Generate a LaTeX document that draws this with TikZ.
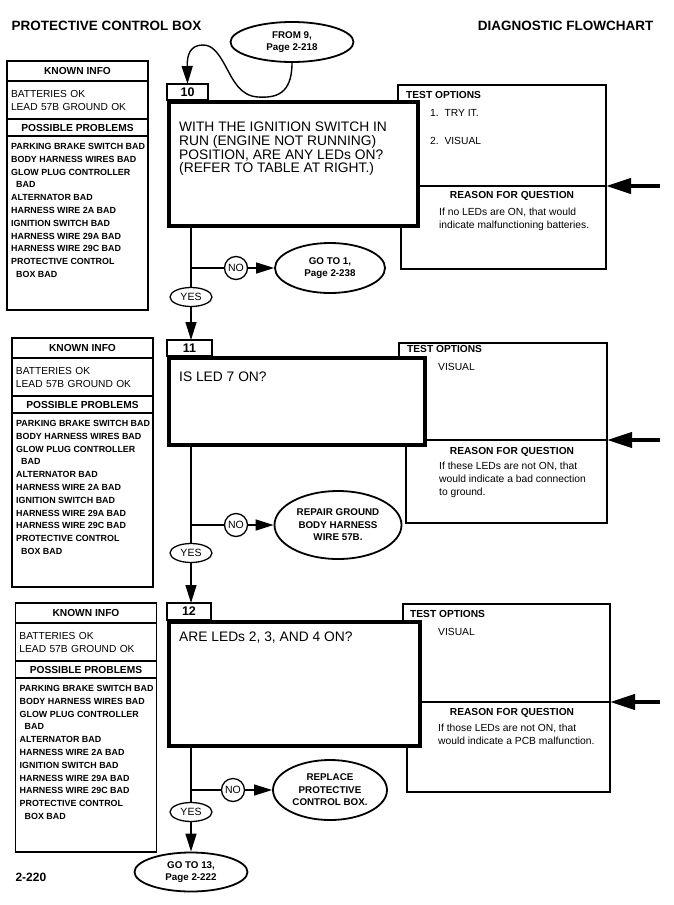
\documentclass[tikz,border=0pt]{standalone}
\usepackage{fontspec}
\setmainfont{Liberation Sans}
\usetikzlibrary{positioning,shapes.geometric,arrows.meta}

\begin{document}
\begin{tikzpicture}
 [x=1pt,y=-1pt,
  title/.style={font=\bfseries\fontsize{13.5}{14}\selectfont},
  known head/.style={draw, line width=1.1pt, outer sep=0pt, inner sep=0pt, minimum width=141pt, font=\bfseries\fontsize{10.2}{12}\selectfont},
  known text/.style={draw, line width=1.1pt, outer sep=0pt, inner xsep=4pt, inner ysep=0pt, text width=133pt, align=left, font=\fontsize{10.2}{13}\selectfont},
  problem list/.style={anchor=north west, inner xsep=4pt, inner ysep=7pt, align=left, font=\bfseries\fontsize{8.9}{12.8}\selectfont},
  num box/.style={draw, line width=1.2pt, fill=white, outer sep=0pt, inner sep=0pt, anchor=south west, font=\bfseries\fontsize{12.5}{13}\selectfont},
  question box/.style={draw, line width=4pt, fill=white, outer sep=0pt},
  question/.style={anchor=north west, inner sep=0pt, align=left, font=\fontsize{13.8}{13.7}\selectfont},
  test box/.style={draw, line width=1.2pt, fill=white, outer sep=0pt},
  box head/.style={anchor=west, inner sep=0pt, font=\bfseries\fontsize{10.2}{12}\selectfont},
  box text/.style={anchor=north west, inner sep=0pt, align=left, font=\fontsize{10.3}{13}\selectfont},
  yes node/.style={ellipse, draw, line width=1.3pt, fill=white, inner sep=0pt, minimum width=42pt, minimum height=19pt, font=\fontsize{10.5}{12}\selectfont},
  no node/.style={circle, draw, line width=1.3pt, fill=white, inner sep=0pt, minimum size=23pt, font=\fontsize{10.5}{12}\selectfont},
  goto node/.style={ellipse, draw, line width=1.8pt, fill=white, inner sep=0pt, align=center, font=\bfseries\fontsize{9.8}{12.5}\selectfont},
  flow/.style={line width=1.4pt},
  to arrow/.style={flow, -{Triangle[length=18pt,width=11pt]}},
  side arrow/.style={line width=4pt, -{Triangle[length=25pt,width=15pt]}}]

\useasboundingbox (0,0) rectangle (673,905);

\node[title, anchor=west] (t1) at (8,26) {PROTECTIVE CONTROL BOX};
\node[title, anchor=east] (t2) at (657,26) {DIAGNOSTIC FLOWCHART};
\node[title, anchor=west, font=\bfseries\fontsize{12}{12}\selectfont] (pg) at (12,877) {2-220};

\node[goto node, minimum width=123pt, minimum height=40pt] (e0) at (292,42) {FROM 9,\\Page 2-218};

% step 10
\node[test box, minimum width=208pt, minimum height=101pt] (t10) at (502,135.5) {};
\node[test box, minimum width=205pt, minimum height=83pt] (r10) at (503.5,227.5) {};
\coordinate (s10) at (660,186);

\node[question box, minimum width=249pt, minimum height=124pt] (q10) at (293.5,164) {};
\node[num box, minimum width=41pt, minimum height=16pt] (n10) at ([xshift=-2pt,yshift=2pt]q10.north west) {10};
\node[question] (qt10) at (179,122) {WITH THE IGNITION SWITCH IN\\RUN (ENGINE NOT RUNNING)\\POSITION, ARE ANY LEDs ON?\\(REFER TO TABLE AT RIGHT.)};

\node[box head] (to10) at (406,95) {TEST OPTIONS};
\node[box text, anchor=west] (o10) at (430,113) {1.\ \ TRY IT.};
\node[box text, anchor=west] (v10) at (430,141) {2.\ \ VISUAL};
\node[box head, anchor=center] (rq10) at (512,196) {REASON FOR QUESTION};
\node[box text] (rt10) at (439,208) {If no LEDs are ON, that would\\indicate malfunctioning batteries.};

\node[known head, minimum height=20pt] (k10) at (77.5,71) {KNOWN INFO};
\node[known text, minimum height=38pt, below=0pt of k10] (b10) {BATTERIES OK\\LEAD 57B GROUND OK};
\node[known head, minimum height=17pt, below=0pt of b10] (p10) {POSSIBLE PROBLEMS};
\node[known head, minimum height=174pt, below=0pt of p10] (l10) {};
\node[problem list] (pl10) at (l10.north west) {PARKING BRAKE SWITCH BAD\\BODY HARNESS WIRES BAD\\GLOW PLUG CONTROLLER\\\hspace*{5pt}BAD\\ALTERNATOR BAD\\HARNESS WIRE 2A BAD\\IGNITION SWITCH BAD\\HARNESS WIRE 29A BAD\\HARNESS WIRE 29C BAD\\PROTECTIVE CONTROL\\\hspace*{5pt}BOX BAD};

\node[yes node] (y10) at (191,297) {YES};
\node[no node] (no10) at (236,268) {NO};
\node[goto node, minimum width=110pt, minimum height=50pt] (e10) at (330,268) {GO TO 1,\\Page 2-238};
\coordinate (j10) at (191,268);

% step 11
\node[test box, minimum width=208pt, minimum height=97pt] (t11) at (503,391.5) {};
\node[test box, minimum width=201pt, minimum height=83pt] (r11) at (506.5,481.5) {};
\coordinate (s11) at (660,440);

\node[question box, minimum width=256pt, minimum height=87pt] (q11) at (297,401.5) {};
\node[num box, minimum width=45pt, minimum height=16pt] (n11) at ([xshift=-2pt,yshift=2pt]q11.north west) {11};
\node[question] (qt11) at (179,372) {IS LED 7 ON?};

\node[box head] (to11) at (407,349) {TEST OPTIONS};
\node[box text, anchor=west] (v11) at (438,367) {VISUAL};
\node[box head, anchor=center] (rq11) at (512,452) {REASON FOR QUESTION};
\node[box text] (rt11) at (439,462) {If these LEDs are not ON, that\\would indicate a bad connection\\to ground.};

\node[known head, minimum height=20pt] (k11) at (82.5,348) {KNOWN INFO};
\node[known text, minimum height=38pt, below=0pt of k11] (b11) {BATTERIES OK\\LEAD 57B GROUND OK};
\node[known head, minimum height=17pt, below=0pt of b11] (p11) {POSSIBLE PROBLEMS};
\node[known head, minimum height=174pt, below=0pt of p11] (l11) {};
\node[problem list] (pl11) at (l11.north west) {PARKING BRAKE SWITCH BAD\\BODY HARNESS WIRES BAD\\GLOW PLUG CONTROLLER\\\hspace*{5pt}BAD\\ALTERNATOR BAD\\HARNESS WIRE 2A BAD\\IGNITION SWITCH BAD\\HARNESS WIRE 29A BAD\\HARNESS WIRE 29C BAD\\PROTECTIVE CONTROL\\\hspace*{5pt}BOX BAD};

\node[yes node] (y11) at (191,553) {YES};
\node[no node] (no11) at (236,525) {NO};
\node[goto node, minimum width=127pt, minimum height=68pt] (e11) at (338,525) {REPAIR GROUND\\BODY HARNESS\\WIRE 57B.};
\coordinate (j11) at (191,525);

% step 12
\node[test box, minimum width=207pt, minimum height=98pt] (t12) at (506.5,653) {};
\node[test box, minimum width=203pt, minimum height=90pt] (r12) at (508.5,747) {};
\coordinate (s12) at (660,702);

\node[question box, minimum width=251pt, minimum height=124pt] (q12) at (294.5,684) {};
\node[num box, minimum width=44pt, minimum height=17pt] (n12) at ([xshift=-2pt,yshift=2pt]q12.north west) {12};
\node[question] (qt12) at (179,632) {ARE LEDs 2, 3, AND 4 ON?};

\node[box head] (to12) at (410,614) {TEST OPTIONS};
\node[box text, anchor=west] (v12) at (438,632) {VISUAL};
\node[box head, anchor=center] (rq12) at (512,713) {REASON FOR QUESTION};
\node[box text] (rt12) at (438,724) {If those LEDs are not ON, that\\would indicate a PCB malfunction.};

\node[known head, minimum height=20pt] (k12) at (86,613) {KNOWN INFO};
\node[known text, minimum height=38pt, below=0pt of k12] (b12) {BATTERIES OK\\LEAD 57B GROUND OK};
\node[known head, minimum height=17pt, below=0pt of b12] (p12) {POSSIBLE PROBLEMS};
\node[known head, minimum height=174pt, below=0pt of p12] (l12) {};
\node[problem list] (pl12) at (l12.north west) {PARKING BRAKE SWITCH BAD\\BODY HARNESS WIRES BAD\\GLOW PLUG CONTROLLER\\\hspace*{5pt}BAD\\ALTERNATOR BAD\\HARNESS WIRE 2A BAD\\IGNITION SWITCH BAD\\HARNESS WIRE 29A BAD\\HARNESS WIRE 29C BAD\\PROTECTIVE CONTROL\\\hspace*{5pt}BOX BAD};

\node[yes node] (y12) at (191,812) {YES};
\node[no node] (no12) at (233,790) {NO};
\node[goto node, minimum width=114pt, minimum height=60pt] (e12) at (330,790) {REPLACE\\PROTECTIVE\\CONTROL BOX.};
\node[goto node, minimum width=113pt, minimum height=39pt] (e13) at (191,872) {GO TO 13,\\Page 2-222};
\coordinate (j12) at (191,790);

\draw[to arrow] (e0.south) .. controls (292,95) and (275,98) .. (258,97) .. controls (240,96) and (233,80) .. (226,67) .. controls (218,52) and (212,45) .. (203,45) .. controls (190,45) and (187,55) .. (n10.north);

\path
  (q10.south -| y10) edge[flow] (y10)
  (j10) edge[flow] (no10)
  (no10) edge[to arrow] (e10)
  (y10) edge[to arrow] (y10 |- n11.north)
  (q11.south -| y11) edge[flow] (y11)
  (j11) edge[flow] (no11)
  (no11) edge[to arrow] (e11)
  (y11) edge[to arrow] (y11 |- n12.north)
  (q12.south -| y12) edge[flow] (y12)
  (j12) edge[flow] (no12)
  (no12) edge[to arrow] (e12)
  (y12) edge[to arrow] (e13)
  (s10) edge[side arrow] (t10.south east)
  (s11) edge[side arrow] (t11.south east)
  (s12) edge[side arrow] (t12.south east);

\end{tikzpicture}
\end{document}
